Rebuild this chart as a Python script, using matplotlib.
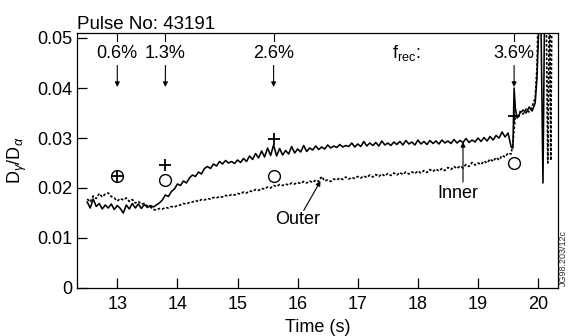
import numpy as np
import matplotlib
matplotlib.use("Agg")
import matplotlib.pyplot as plt

plt.rcParams['font.family'] = ['Liberation Sans', 'DejaVu Sans']
plt.rcParams['mathtext.fontset'] = 'custom'
plt.rcParams['mathtext.rm'] = 'Liberation Sans'
plt.rcParams['mathtext.it'] = 'Liberation Sans:italic'

# ---------------- data (units of 1e-3) ----------------
t_start = 12.5
t_step = 0.05
inner_main = [
    17.2, 16.0, 17.8, 16.3, 16.9, 15.8, 16.6, 16.0, 16.8, 15.7, 16.5, 15.9, 15.0, 16.6, 15.8, 16.9, 16.0, 16.8, 15.9, 16.7, 16.1, 16.5, 16.2,
    16.6, 17.0, 17.6, 18.6, 18.3, 19.3, 19.8, 20.8, 20.5, 21.4, 21.0, 22.0, 22.6, 22.3, 23.2, 22.8, 23.9, 24.3, 23.9, 24.8, 24.4, 25.3, 24.8, 25.5, 25.0, 25.3, 24.9, 25.6,
    25.1, 25.9, 25.3, 26.4, 25.7, 26.9, 26.0, 27.4, 26.2, 28.0, 26.5, 28.6, 26.4, 27.9, 26.6, 27.5, 26.8, 28.3, 27.0, 27.8, 27.2, 28.5, 27.3, 28.0, 27.6, 28.4, 27.7, 28.2, 27.8, 28.6, 28.0, 28.4, 28.1, 28.7, 28.2, 28.5, 28.3, 29.0, 28.2, 28.8,
    28.3, 29.3, 28.4, 29.0, 28.5, 29.1, 28.4, 29.4, 28.6, 29.0, 28.5, 29.2, 28.7, 29.3, 28.6, 29.5, 28.8, 29.2, 28.6, 29.6, 28.8, 29.3, 28.7, 29.5, 28.9, 29.4, 28.8, 29.6, 29.0, 29.4, 28.9, 29.7, 29.0, 29.5, 29.1, 29.9, 29.1, 29.6, 29.2, 30.0, 29.3, 30.1, 29.4, 30.3, 29.6, 30.5, 30.0, 31.2, 30.2, 31.0, 28.2,
]
outer_main = [
    17.8, 17.2, 18.4, 17.9, 18.9, 18.2, 18.8, 19.0, 18.3, 18.0, 17.4, 17.9, 17.6, 18.0, 17.3, 17.7, 17.0, 17.3, 16.8, 16.9, 16.4, 16.2, 15.7,
    15.6, 15.9, 15.8, 16.1, 16.0, 16.3, 16.2, 16.5, 16.6, 16.9, 16.8, 17.1, 17.2, 17.5, 17.3, 17.7, 17.6, 17.9, 17.8, 18.1, 18.0, 18.3, 18.2, 18.5, 18.4, 18.7, 18.6, 18.9,
    18.8, 19.2, 19.0, 19.4, 19.3, 19.7, 19.5, 19.9, 19.8, 20.2, 20.0, 20.5, 20.3, 20.7, 20.5, 20.8, 20.6, 21.0, 20.8, 21.1, 20.9, 21.3, 21.0, 21.4, 21.1, 21.6, 21.3, 22.3, 21.4, 21.6, 21.3, 21.8, 21.6, 22.0, 21.7, 22.2, 21.8, 22.1, 21.9, 22.3,
    22.0, 22.4, 22.1, 22.6, 22.2, 22.7, 22.3, 22.8, 22.4, 22.9, 22.5, 23.0, 22.6, 23.1, 22.7, 23.2, 22.8, 23.2, 22.9, 23.4, 23.0, 23.5, 23.1, 23.7, 23.3, 23.8, 23.4, 23.9, 23.5, 24.1, 23.7, 24.3, 23.9, 24.4, 24.0, 24.7, 24.3, 25.1, 24.6, 25.0, 24.7, 25.4, 25.0, 25.8, 25.3, 26.1, 25.6, 26.5, 26.2, 27.0, 26.8,
]
inner_tail_t = [19.58, 19.60, 19.62, 19.65, 19.70, 19.75, 19.80, 19.85, 19.90, 19.95, 19.98, 20.01, 20.04, 20.08, 20.11, 20.13]
inner_tail_v = [28.0, 40.0, 36.0, 34.0, 35.0, 35.6, 35.0, 36.2, 35.4, 37.0, 42.0, 52.0, 60.0, 21.0, 60.0, 60.0]
outer_tail_t = [19.58, 19.62, 19.66, 19.70, 19.75, 19.80, 19.85, 19.90, 19.95, 19.98, 20.01, 20.13, 20.16, 20.19, 20.21, 20.23]
outer_tail_v = [29.0, 34.5, 34.0, 35.3, 34.8, 35.8, 35.2, 36.3, 38.0, 44.0, 60.0, 60.0, 25.0, 60.0, 25.5, 60.0]

plus_t = [13.0, 13.8, 15.6, 19.6]
plus_v = [0.0225, 0.0246, 0.0298, 0.0344]
circle_t = [13.0, 13.8, 15.6, 19.6]
circle_v = [0.0225, 0.0216, 0.0224, 0.0250]

frec_t = [13.0, 13.8, 15.6, 19.6]
frec_labels = ['0.6%', '1.3%', '2.6%', '3.6%']

xticks = [13, 14, 15, 16, 17, 18, 19, 20]
yticks = [0, 0.01, 0.02, 0.03, 0.04, 0.05]
ytick_labels = ['0', '0.01', '0.02', '0.03', '0.04', '0.05']

# ---------------- series assembly ----------------
t_main = np.round(t_start + t_step * np.arange(len(inner_main)), 2)
t_inner = np.concatenate([t_main, inner_tail_t])
v_inner = np.concatenate([inner_main, inner_tail_v]) * 1e-3
t_outer = np.concatenate([np.round(t_start + t_step * np.arange(len(outer_main)), 2), outer_tail_t])
v_outer = np.concatenate([outer_main, outer_tail_v]) * 1e-3

fig = plt.figure(figsize=(5.69, 3.36), dpi=100)
ax = fig.add_axes([77/569, 48/336, (558-77)/569, (288-33)/336])

ax.plot(t_outer, v_outer, color='k', lw=1.2, linestyle=(0, (1.6, 1.1)))
ax.plot(t_inner, v_inner, color='k', lw=1.15)

ax.plot(circle_t, circle_v, linestyle='none', marker='o', ms=8.5, mfc='none', mec='k', mew=1.0)
ax.plot(plus_t, plus_v, linestyle='none', marker='+', ms=9, mec='k', mew=1.3)

ax.set_xlim(12.33, 20.33)
ax.set_ylim(0, 0.051)
ax.set_xticks(xticks)
ax.set_yticks(yticks)
ax.set_yticklabels(ytick_labels)
ax.tick_params(direction='in', length=7, width=0.9, labelsize=13, pad=3, colors='k')
ax.tick_params(axis='x', pad=6)
for s in ax.spines.values():
    s.set_linewidth(0.9)

for t, lab in zip(frec_t, frec_labels):
    ax.text(t, 0.0470, lab, ha='center', va='center', fontsize=13)
    ax.annotate('', xy=(t, 0.0402), xytext=(t, 0.0445),
                arrowprops=dict(arrowstyle='-|>', color='k', lw=0.8, mutation_scale=7, shrinkA=0, shrinkB=0))
    ax.plot([t, t], [0.051, 0.0495], color='k', lw=0.8)

ax.text(17.8, 0.0470, r'f$_{\mathrm{rec}}$:', ha='center', va='center', fontsize=13)

ax.text(18.67, 0.0190, 'Inner', ha='center', va='center', fontsize=13)
ax.annotate('', xy=(18.75, 0.0292), xytext=(18.75, 0.0212),
            arrowprops=dict(arrowstyle='-|>', color='k', lw=0.8, mutation_scale=7, shrinkA=0, shrinkB=0))
ax.text(16.0, 0.0136, 'Outer', ha='center', va='center', fontsize=13)
ax.annotate('', xy=(16.38, 0.0214), xytext=(16.1, 0.0155),
            arrowprops=dict(arrowstyle='-|>', color='k', lw=0.8, mutation_scale=7, shrinkA=0, shrinkB=0))

ax.set_xlabel('Time (s)', fontsize=13, labelpad=4)
ax.set_ylabel(r'D$_\gamma$/D$_\alpha$', fontsize=13, labelpad=6)

fig.text(77/569, (336-29)/336, 'Pulse No: 43191', fontsize=13.5, ha='left', va='baseline')
fig.text(563/569, (336-258)/336, 'JG98.203/12c', fontsize=6.5, rotation=90, ha='center', va='center', color='#333333')

fig.savefig('out.png', dpi=100)
